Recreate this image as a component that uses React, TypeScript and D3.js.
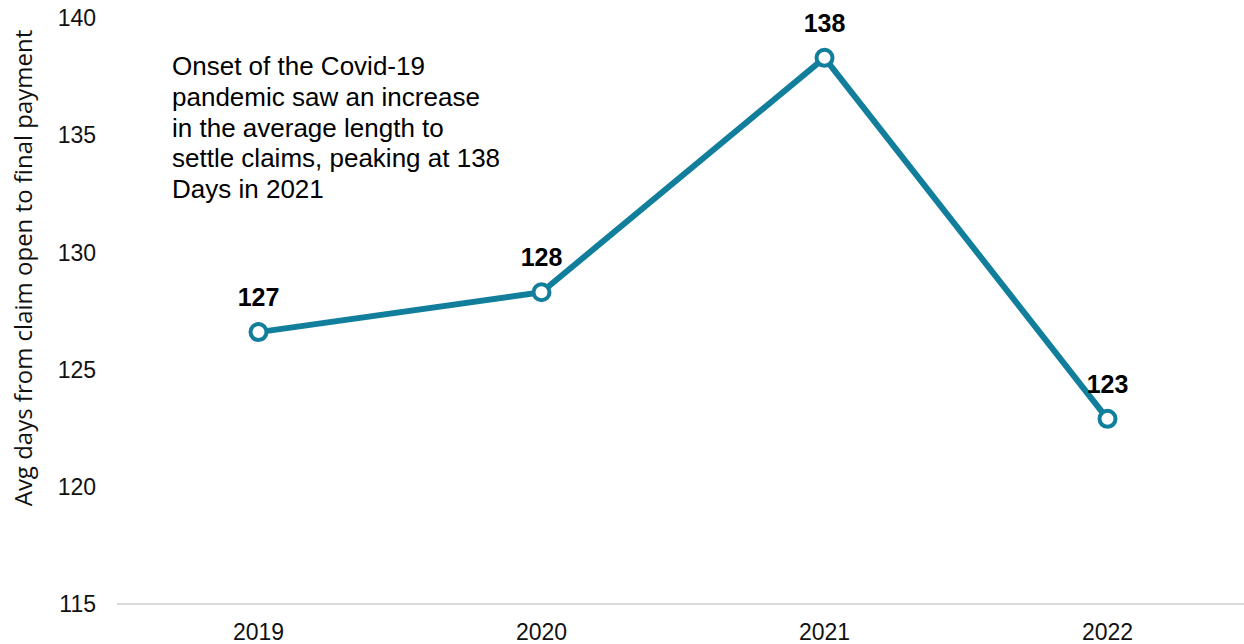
import React from "react";
import * as d3 from "d3";

const years = ["2019", "2020", "2021", "2022"];
const avgDays = [126.6, 128.3, 138.3, 122.9];
const dataLabels = ["127", "128", "138", "123"];
const yTicks = [115, 120, 125, 130, 135, 140];
const annotationLines = [
  "Onset of the Covid-19",
  "pandemic saw an increase",
  "in the average length to",
  "settle claims, peaking at 138",
  "Days in 2021",
];
const yTitle = "Avg days from claim open to final payment";

const W = 1244;
const H = 644;
const TEAL = "#117f9c";
const FONT = "'Liberation Sans', Arial, sans-serif";

export default function App() {
  const x = d3.scalePoint<string>().domain(years).range([117, 1249]).padding(0.5);
  const y = d3.scaleLinear().domain([115, 140]).range([604, 18]);
  const pts = years.map((yr, i) => [x(yr)!, y(avgDays[i])] as [number, number]);
  const line = d3.line<[number, number]>().x((d) => d[0]).y((d) => d[1]);

  return (
    <svg
      width={W}
      height={H}
      style={{ position: "absolute", left: 0, top: 0, background: "#fff" }}
      fontFamily={FONT}
    >
      <line x1={117} x2={W} y1={y(115)} y2={y(115)} stroke="#d9d9d9" strokeWidth={2} />
      {yTicks.map((t) => (
        <text key={t} x={96} y={y(t)} dy="0.36em" textAnchor="end" fontSize={23} fill="#111">
          {t}
        </text>
      ))}
      {years.map((yr) => (
        <text key={yr} x={x(yr)} y={640} textAnchor="middle" fontSize={23} fill="#111">
          {yr}
        </text>
      ))}
      <text
        transform={`translate(24, 268) rotate(-90)`}
        dy="0.35em"
        textAnchor="middle"
        fontSize={24}
        fontFamily="'Open Sans', 'Noto Sans', sans-serif"
        fill="#111"
      >
        {yTitle}
      </text>
      <path d={line(pts) || ""} fill="none" stroke={TEAL} strokeWidth={6} strokeLinejoin="round" />
      {pts.map((p, i) => (
        <circle key={i} cx={p[0]} cy={p[1]} r={8} fill="#fff" stroke={TEAL} strokeWidth={4} />
      ))}
      {pts.map((p, i) => (
        <text
          key={"l" + i}
          x={p[0]}
          y={p[1] - 26}
          textAnchor="middle"
          fontSize={25}
          fontWeight="bold"
          fill="#000"
        >
          {dataLabels[i]}
        </text>
      ))}
      <text x={172} y={75} fontSize={26} fill="#000">
        {annotationLines.map((l, i) => (
          <tspan key={i} x={172} dy={i === 0 ? 0 : 30.8}>
            {l}
          </tspan>
        ))}
      </text>
    </svg>
  );
}
